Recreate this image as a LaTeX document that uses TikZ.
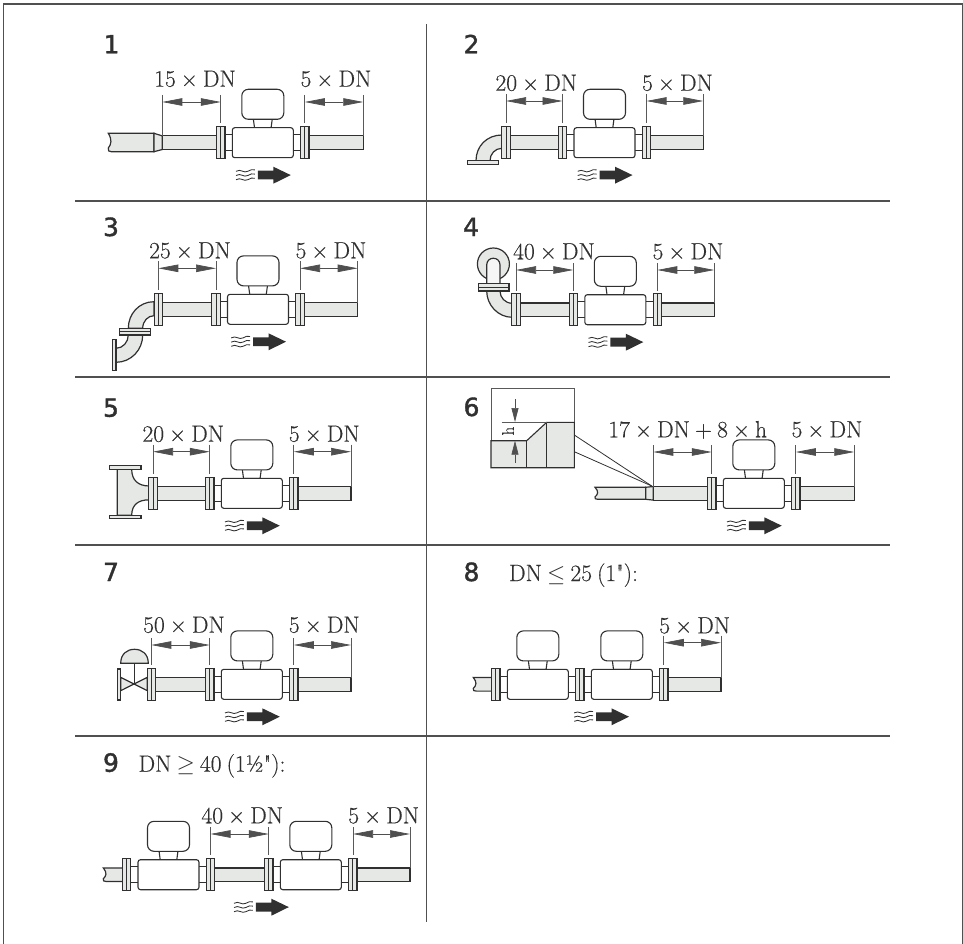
\documentclass[tikz,border=0pt]{standalone}
\usepackage{fix-cm}
\usepackage{fontspec}
\usetikzlibrary{arrows.meta,calc}
\newfontfamily\headfont[FakeBold=1.6]{DejaVu Sans}
\newfontfamily\labelfont[FakeBold=0.35,WordSpace=0.72]{Latin Modern Roman}
\definecolor{ink}{HTML}{303030}
\definecolor{pipefill}{HTML}{E6E8E6}
\definecolor{rulecol}{HTML}{505050}
\newcounter{nid}
\tikzset{
  x=1pt,y=-1pt,
  part/.style={draw=ink,line width=1.2pt,fill=pipefill},
  whitepart/.style={draw=ink,line width=1.1pt,fill=white},
  thin part/.style={draw=ink,line width=.8pt},
  rulefine/.style={draw=rulecol,line width=1.25pt},
  extline/.style={draw=ink!80,line width=.8pt},
  dimline/.style={draw=ink!85,line width=.7pt,{Triangle[length=20pt,width=7.5pt]}-{Triangle[length=20pt,width=7.5pt]}},
  dimtext/.style={anchor=base,inner sep=0pt,text=ink,font=\labelfont\fontsize{23.5}{26}\selectfont},
  headtext/.style={anchor=base,inner sep=0pt,text=ink,font=\headfont\fontsize{25}{28}\selectfont},
}
% flange at x, axis y
\newcommand{\mFlange}[2]{%
  \path[part] (#1-4.2,#2-16) rectangle (#1+4.2,#2+16);
  \draw[thin part] (#1,#2-16) -- (#1,#2+16);}
\newcommand{\mPipe}[3]{\path[part] (#1,#3-6.8) rectangle (#2,#3+6.8);}
% meter with its two flanges
\newcommand{\mMeter}[2]{%
  \path[whitepart] (#1-38,#2-8.2) rectangle (#1+38,#2+8.2);
  \path[whitepart] (#1-9.5,#2-24) -- (#1-8.3,#2-15) -- (#1+8.3,#2-15) -- (#1+9.5,#2-24) -- cycle;
  \path[whitepart,rounded corners=6.5pt] (#1-21,#2-53.4) rectangle (#1+21,#2-23.4);
  \path[whitepart,rounded corners=2.5pt] (#1-30.5,#2-15) rectangle (#1+30.5,#2+15);
  \mFlange{#1-42}{#2}\mFlange{#1+42}{#2}}
% flow sign
\newcommand{\mFlow}[2]{%
  \foreach \dy in {28,32.2,36.4}{
    \draw[ink,line width=.85pt] (#1-26.8,#2+\dy+.6) .. controls (#1-22,#2+\dy-2.4) and (#1-19,#2+\dy+3) .. (#1-15,#2+\dy+.6) .. controls (#1-12.5,#2+\dy-1) and (#1-10,#2+\dy-1.6) .. (#1-8,#2+\dy-.8);}
  \fill[ink] (#1-5,#2+28) -- (#1+10.5,#2+28) -- (#1+10.5,#2+24) -- (#1+28,#2+32.4) -- (#1+10.5,#2+41) -- (#1+10.5,#2+36.8) -- (#1-5,#2+36.8) -- cycle;}
% dimension: x a, x b, y of line, lower ends
\newcommand{\mDim}[5]{%
  \stepcounter{nid}%
  \coordinate (da\arabic{nid}) at (#1,#3);
  \coordinate (db\arabic{nid}) at (#2,#3);
  \draw[extline] ($(da\arabic{nid})+(0,-7)$) -- (#1,#4);
  \draw[extline] ($(db\arabic{nid})+(0,-7)$) -- (#2,#5);
  \draw[dimline] (da\arabic{nid}) -- (db\arabic{nid});}
\newcommand{\mLabel}[3]{\stepcounter{nid}\node[dimtext] (lb\arabic{nid}) at (#1,#2) {#3};}
\newcommand{\mHead}[3]{\stepcounter{nid}\node[headtext] (hd\arabic{nid}) at (#1,#2) {#3};}
% broken left pipe
\newcommand{\mBroken}[4]{%
  \path[part] (#1,#3) .. controls (#1+4,#3+0.35*#4-0.35*#3) and (#1+3,#3+0.6*#4-0.6*#3) .. (#1,#3+0.8*#4-0.8*#3) .. controls (#1-1,#3+0.95*#4-0.95*#3) and (#1+1,#4) .. (#1+3,#4) -- (#2,#4) -- (#2,#3) -- cycle;}
\begin{document}
\begin{tikzpicture}
\useasboundingbox (0,0) rectangle (963,944);
% frame and grid
\coordinate (fa) at (3.5,944); \coordinate (fb) at (3.5,4); \coordinate (fc) at (962.3,4); \coordinate (fd) at (962.3,944);
\draw[rulecol,line width=1.4pt] (fa) -- (fb) -- (fc) -- (fd);
\foreach \yy in {201,377,545,736}{\draw[rulefine] (75,\yy) -- (890,\yy);}
\draw[rulefine] (426.7,24) -- (426.7,921.7);

% ---- 1
\mHead{111.5}{53.3}{1}
\mLabel{195}{86.7}{15 × DN}\mLabel{336}{86.7}{5 × DN}
\mBroken{108.3}{154}{133.3}{151.7}
\path[part] (154,133.3) -- (162.3,135.9) -- (162.3,149.5) -- (154,151.7) -- cycle;
\mPipe{162.3}{304}{142.7}\mPipe{304}{363.3}{142.7}
\mMeter{262.8}{142.7}
\mDim{162.3}{220.8}{102}{135.9}{123.3}
\mDim{304.8}{363.3}{102}{123.3}{135.9}
\mFlow{262.8}{142.7}

% ---- 2
\mHead{471.5}{53.3}{2}
\mLabel{536.3}{90.7}{20 × DN}\mLabel{677.5}{90.7}{5 × DN}
\path[part] (502,135) .. controls (487,135) and (476,146) .. (476,160.7) -- (490,160.7) .. controls (490,154) and (495,148.3) .. (502,148.3) -- cycle;
\path[part] (467.7,160.7) rectangle (498.3,164.3);
\mPipe{506}{646}{142.7}\mPipe{646}{703.3}{142.7}
\mFlange{506}{142.7}
\mMeter{604.5}{142.7}
\mDim{506}{562.5}{101}{123.3}{123.3}
\mDim{646.5}{703.3}{101}{123.3}{135.9}
\mFlow{604.5}{142.7}

% ---- 3
\mHead{111}{236}{3}
\mLabel{190}{258.3}{25 × DN}\mLabel{331}{258.3}{5 × DN}
\path[part] (154,301.7) .. controls (139,301.7) and (128.3,314) .. (128.3,328.3) -- (142.7,328.3) .. controls (142.7,321) and (148,315.7) .. (154,315.7) -- cycle;
\path[part] (128.3,335) .. controls (128.3,342) and (123,348.3) .. (116,348.3) -- (116,362.3) .. controls (131,362.3) and (142.7,350) .. (142.7,335) -- cycle;
\path[part] (119.3,328.3) rectangle (150.7,335);
\draw[thin part] (119.3,331.6) -- (150.7,331.6);
\path[part] (112.3,339.3) rectangle (116,370.7);
\mPipe{158}{300}{309.3}\mPipe{300}{357.7}{309.3}
\mFlange{158.3}{309.3}
\mMeter{258}{309.3}
\mDim{158.3}{216}{268.3}{290}{290}
\mDim{300}{357.7}{268.3}{290}{302.5}
\mFlow{258}{309.3}

% ---- 4
\mHead{471}{236}{4}
\mLabel{554}{259.3}{40 × DN}\mLabel{688}{259.3}{5 × DN}
\path[part] (493.4,264) circle[radius=16];
\path[part,fill=pipefill!40] (486.7,283.7) -- (486.7,265) .. controls (486.7,256) and (500,256) .. (500,265) -- (500,283.7) -- cycle;
\path[part] (500,291) .. controls (500,297.5) and (505,303.3) .. (512.3,303.3) -- (512.3,317.3) .. controls (498,317.3) and (486.7,305) .. (486.7,291) -- cycle;
\path[part] (478.3,283.7) rectangle (509,291);
\draw[thin part] (478.3,287.3) -- (509,287.3);
\mPipe{516}{657}{309.7}\mPipe{657}{714.3}{309.7}
\mFlange{516}{309.7}
\mMeter{615.3}{309.7}
\mDim{516}{573.3}{270}{290.5}{290.5}
\mDim{657.3}{714.3}{270}{290.5}{302.9}
\mFlow{615.3}{309.7}

% ---- 5
\mHead{111}{416.7}{5}
\mLabel{183.3}{441.7}{20 × DN}\mLabel{324.3}{441.7}{5 × DN}
\path[part] (117.3,469.3) -- (117.3,515.3) -- (131.7,515.3) .. controls (131.7,505) and (138,499.8) .. (149.3,499.8) -- (149.3,486) .. controls (138,486) and (131.7,480) .. (131.7,469.3) -- cycle;
\path[part] (109.3,465.7) rectangle (141,469.3);
\path[part] (109.3,515.3) rectangle (141,518.7);
\mPipe{153}{294}{493.3}\mPipe{294}{351}{493.3}
\mFlange{153}{493.3}
\mMeter{251.8}{493.3}
\mDim{153}{209.8}{451.7}{474}{474}
\mDim{293.8}{351}{451.7}{474}{486.5}
\mFlow{251.8}{493.3}

% ---- 6
\mHead{471.5}{416}{6}
\mLabel{687.7}{437.3}{17 × DN + 8 × h}\mLabel{827}{437.3}{5 × DN}
\coordinate (lens) at (651.7,486);
\coordinate (boxa) at (574.3,435); \coordinate (boxb) at (574.3,451.7);
\draw[thin part] (boxa) -- (lens); \draw[thin part] (boxb) -- (lens);
\mBroken{595}{645.7}{487.3}{499.3}
\path[part] (645.7,487.3) -- (653.3,486.5) -- (653.3,500.1) -- (645.7,499.3) -- cycle;
\mPipe{653.3}{796}{493.3}\mPipe{796}{854.3}{493.3}
\mMeter{753.8}{493.3}
\mDim{653.3}{711.8}{452}{486.5}{474}
\mDim{795.8}{854.3}{452}{474}{486.5}
\mFlow{753.8}{493.3}
% inset
\path[draw=ink!80,fill=white,line width=1pt] (491,388.3) rectangle (574.3,467.7);
\path[draw=ink,line width=1.1pt,fill=pipefill] (491,440.7) -- (526.7,440.7) -- (546.7,422.3) -- (574.3,422.3) -- (574.3,467.7) -- (491,467.7) -- cycle;
\draw[thin part] (526.7,440.7) -- (526.7,467.7);
\draw[thin part] (546.7,422.3) -- (546.7,467.7);
\draw[ink!80,line width=.7pt] (501.7,422) -- (546.7,422);
\coordinate (ha) at (515,399.3); \coordinate (hb) at (515,422); \coordinate (hc) at (515,440.7); \coordinate (hd) at (515,462.7);
\draw[draw=ink!85,line width=.7pt,-{Triangle[length=14pt,width=7pt]}] (ha) -- (hb);
\draw[draw=ink!85,line width=.7pt,-{Triangle[length=14pt,width=7pt]}] (hd) -- (hc);
\node[inner sep=0pt,text=ink,rotate=90,font=\labelfont\fontsize{17}{19}\selectfont] (hlab) at (508,431) {h};

% ---- 7
\mHead{111}{581}{7}
\mLabel{184}{632.7}{50 × DN}\mLabel{324.3}{632.7}{5 × DN}
\path[part] (120.7,663.3) .. controls (120.7,654) and (127,649.3) .. (134.5,649.3) .. controls (142,649.3) and (148.3,654) .. (148.3,663.3) -- cycle;
\draw[thin part] (134.4,663.3) -- (134.4,684.3);
\path[part] (120.7,677.3) -- (147.3,690.7) -- (147.3,677.3) -- (120.7,690.7) -- cycle;
\path[part] (117.3,669) rectangle (120.7,700);
\mPipe{151}{294}{684.3}\mPipe{294}{351}{684.3}
\mFlange{151.3}{684.3}
\mMeter{251.8}{684.3}
\mDim{151.3}{209.8}{645}{665}{665}
\mDim{293.8}{351}{645}{665}{677.5}
\mFlow{251.8}{684.3}

% ---- 8
\mHead{471.5}{581}{8}
\mLabel{573.5}{581}{DN $\leq$ 25 (1"):}
\mLabel{694.7}{633.3}{5 × DN}
\mBroken{473.3}{496}{677.5}{691.1}
\mPipe{664}{721}{684.3}
\mMeter{537.8}{684.3}\mMeter{621.8}{684.3}
\mDim{663.8}{721}{642.7}{665}{677.5}
\mFlow{601}{684.3}

% ---- 9
\mHead{111}{771.7}{9}
\mLabel{212}{771.7}{DN $\geq$ 40 (1½"):}
\mLabel{242.3}{823.3}{40 × DN}\mLabel{383.7}{823.3}{5 × DN}
\mBroken{103.3}{127}{867.9}{881.5}
\mPipe{210}{269}{874.7}\mPipe{353}{410}{874.7}
\mMeter{168.5}{874.7}\mMeter{310.8}{874.7}
\mDim{210.5}{268.8}{834}{855}{855}
\mDim{353}{410}{834}{855}{867.9}
\mFlow{260.8}{874.7}
\end{tikzpicture}
\end{document}
